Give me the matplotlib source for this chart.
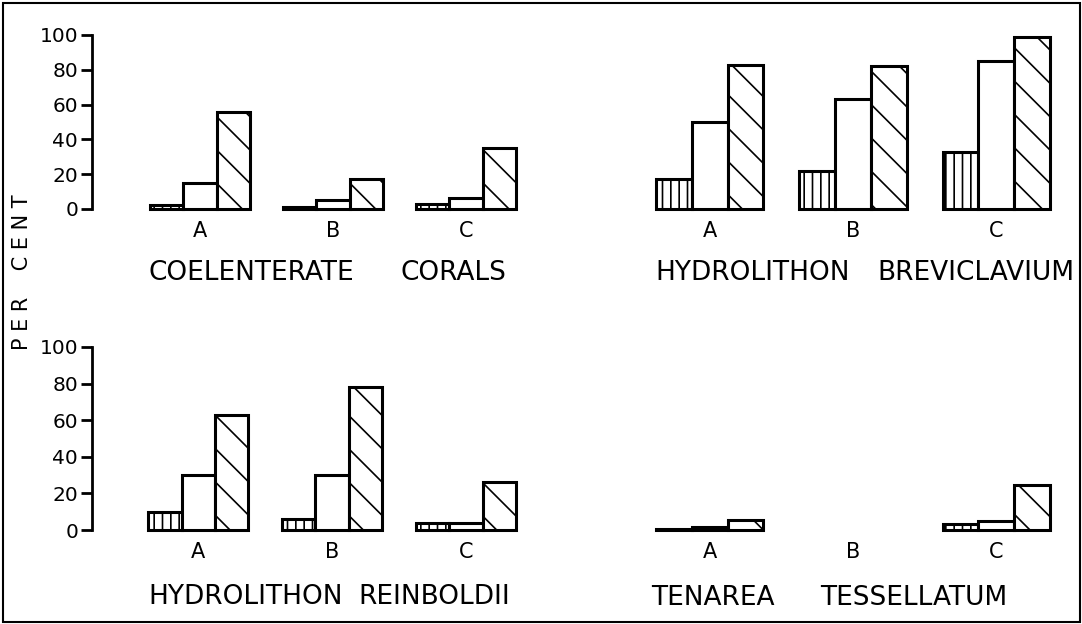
import matplotlib.pyplot as plt
from matplotlib.patches import Rectangle

groups = ['A', 'B', 'C']

coral_vert = [2.5, 1, 3]
coral_open = [15, 5, 6.5]
coral_diag = [56, 17, 35]

brevi_vert = [17, 22, 33]
brevi_open = [50, 63, 85]
brevi_diag = [83, 82, 99]

reinb_vert = [10, 6, 4]
reinb_open = [30, 30, 4]
reinb_diag = [63, 78, 26]

tenar_vert = [0.5, 0, 3.5]
tenar_open = [1.5, 0, 5]
tenar_diag = [5.5, 0, 24.5]

titles = ['COELENTERATE CORALS', 'HYDROLITHON BREVICLAVIUM',
          'HYDROLITHON REINBOLDII', 'TENAREA TESSELLATUM']
yticks = [0, 20, 40, 60, 80, 100]

W, H = 1082, 624
plt.rcParams['hatch.linewidth'] = 1.2
fig = plt.figure(figsize=(W / 100, H / 100), dpi=100)


def px_axes(x0, x1, ytop, ybot):
    return fig.add_axes([x0 / W, 1 - ybot / H, (x1 - x0) / W, (ybot - ytop) / H])


def panel(ax, vert, opn, diag, left_axis, xmin):
    for g in range(len(groups)):
        vals = [vert[g], opn[g], diag[g]]
        hatches = ['||', '', '\\']
        for i in range(3):
            if vals[i] <= 0:
                continue
            ax.bar(g * 4 + i, vals[i], width=1, align='edge', facecolor='white',
                   edgecolor='black', linewidth=2.2, hatch=hatches[i], clip_on=False)
    ax.set_xlim(xmin, 11)
    ax.set_ylim(0, 100)
    ax.set_xticks([g * 4 + 1.5 for g in range(len(groups))])
    ax.set_xticklabels(groups, fontsize=15)
    ax.tick_params(axis='x', length=0, pad=9)
    for s in ['top', 'right', 'bottom']:
        ax.spines[s].set_visible(False)
    if left_axis:
        ax.spines['left'].set_linewidth(2)
        ax.set_yticks(yticks)
        ax.tick_params(axis='y', length=8, width=2, labelsize=14.5, pad=2)
    else:
        ax.spines['left'].set_visible(False)
        ax.set_yticks([])
    ax.patch.set_visible(False)


ax1 = px_axes(92, 516, 35, 209)
panel(ax1, coral_vert, coral_open, coral_diag, True, -1.75)
ax2 = px_axes(656, 1050, 35, 209)
panel(ax2, brevi_vert, brevi_open, brevi_diag, False, 0)
ax3 = px_axes(92, 516, 347, 530)
panel(ax3, reinb_vert, reinb_open, reinb_diag, True, -1.68)
ax4 = px_axes(656, 1050, 347, 530)
panel(ax4, tenar_vert, tenar_open, tenar_diag, False, 0)

# left edge of each title word, and the title's vertical centre (pixels)
word_x = [(148, 400), (655, 877), (148, 358), (651, 820)]
title_y = [273, 273, 597, 598]
for t, xs, y in zip(titles, word_x, title_y):
    for word, x in zip(t.split(), xs):
        fig.text(x / W, 1 - y / H, word, ha='left', va='center', fontsize=19)

fig.text(22 / W, 1 - 272 / H, 'P E R    C E N T', rotation=90,
         ha='center', va='center', fontsize=15)

fig.patches.append(Rectangle((3 / W, 2 / H), (W - 5) / W, (H - 5) / H,
                             transform=fig.transFigure, fill=False, lw=1.5,
                             edgecolor='black'))

fig.savefig('out.png', dpi=100)
